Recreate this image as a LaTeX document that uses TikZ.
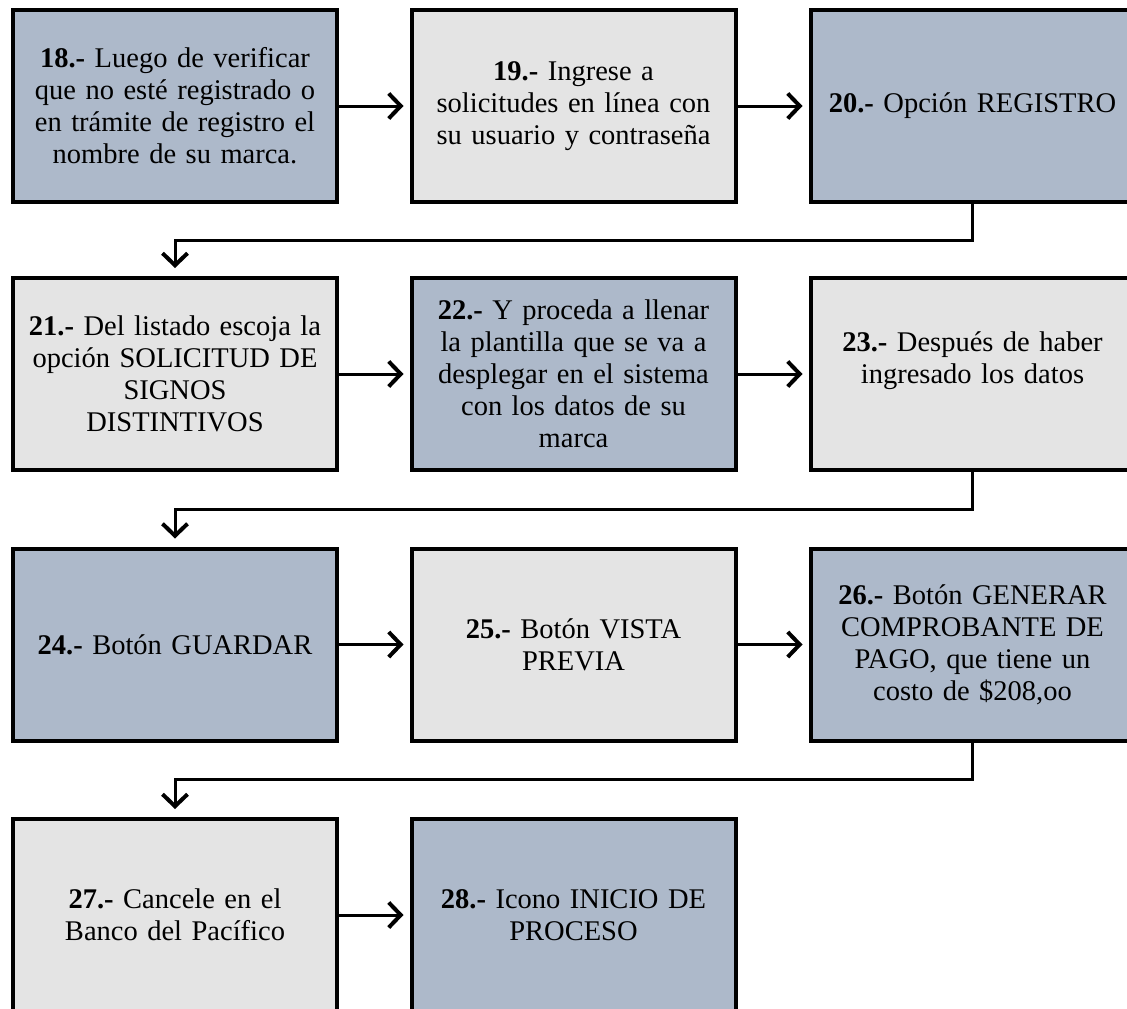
\documentclass[tikz,border=0pt]{standalone}
\usepackage{fontspec}
\setmainfont{Liberation Serif}
\usetikzlibrary{arrows.meta,calc}
\definecolor{bluebox}{HTML}{ADB9CA}
\definecolor{graybox}{HTML}{E4E4E4}
\tikzset{
  stepbox/.style={draw=black, line width=4pt, minimum width=324pt, minimum height=192pt,
    align=center, inner sep=1pt, font=\fontsize{28.5}{32}\selectfont,
    text width=322pt},
  bluestep/.style={stepbox, fill=bluebox},
  graystep/.style={stepbox, fill=graybox},
  conn/.style={line width=3pt, -{Straight Barb[length=12pt,width=25pt,line width=4pt]}},
}
\begin{document}
\begin{tikzpicture}[x=1pt,y=-1pt]
\clip (0,0) rectangle (1127,1009);
\fill[white] (0,0) rectangle (1127,1009);
% row 1
\node[bluestep] (b18) at (175,106) {\textbf{18.-} Luego de verificar\\que no esté registrado o\\en trámite de registro el\\nombre de su marca.};
\node[graystep] (b19) at (573.5,106) {\textbf{19.-} Ingrese a\\solicitudes en línea con\\su usuario y contraseña};
\node[bluestep] (b20) at (972.5,106) {\textbf{20.-} Opción REGISTRO};
% row 2
\node[graystep] (b21) at (175,374) {\textbf{21.-} Del listado escoja la\\opción SOLICITUD DE\\SIGNOS\\DISTINTIVOS};
\node[bluestep] (b22) at (573.5,374) {\textbf{22.-} Y proceda a llenar\\la plantilla que se va a\\desplegar en el sistema\\con los datos de su\\marca};
\node[graystep] (b23) at (972.5,374) {\textbf{23.-} Después de haber\\ingresado los datos\\\mbox{}};
% row 3
\node[bluestep] (b24) at (175,644.5) {\textbf{24.-} Botón GUARDAR};
\node[graystep] (b25) at (573.5,644.5) {\textbf{25.-} Botón VISTA\\PREVIA};
\node[bluestep] (b26) at (972.5,644.5) {\textbf{26.-} Botón GENERAR\\COMPROBANTE DE\\PAGO, que tiene un\\costo de \$208,oo};
% row 4
\node[graystep] (b27) at (175,915) {\textbf{27.-} Cancele en el\\Banco del Pacífico};
\node[bluestep] (b28) at (573.5,915) {\textbf{28.-} Icono INICIO DE\\PROCESO};
% connectors
\draw[conn, shorten >=6pt] (b18.east) -- (b19.west);
\draw[conn, shorten >=6pt] (b19.east) -- (b20.west);
\draw[conn, shorten >=8pt] (b20.south) -- ++(0,36) -| (b21.north);
\draw[conn, shorten >=6pt] (b21.east) -- (b22.west);
\draw[conn, shorten >=6pt] (b22.east) -- (b23.west);
\draw[conn, shorten >=8pt] (b23.south) -- ++(0,37) -| (b24.north);
\draw[conn, shorten >=6pt] (b24.east) -- (b25.west);
\draw[conn, shorten >=6pt] (b25.east) -- (b26.west);
\draw[conn, shorten >=8pt] (b26.south) -- ++(0,37) -| (b27.north);
\draw[conn, shorten >=6pt] (b27.east) -- (b28.west);
\end{tikzpicture}
\end{document}
